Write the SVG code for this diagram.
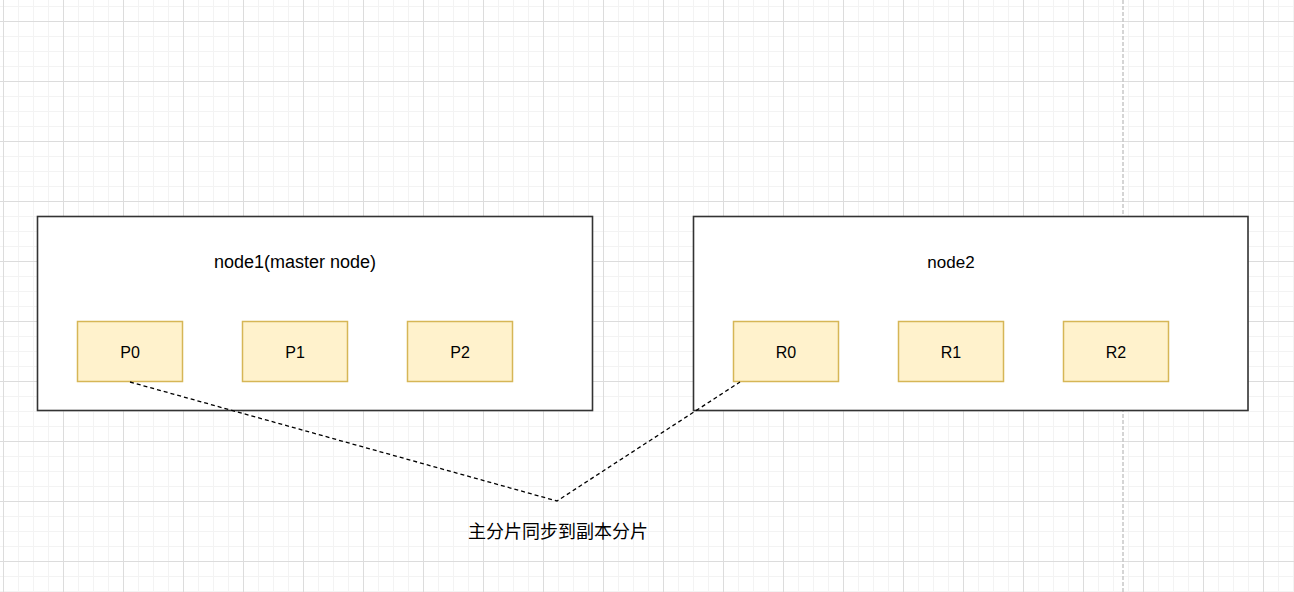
<svg xmlns="http://www.w3.org/2000/svg" width="1294" height="592" viewBox="0 0 1294 592">
<style>
.box{fill:#fff;stroke:#333;stroke-width:1.6}
.shard{fill:#fff2cc;stroke:#d6b656;stroke-width:1.5}
.lbl{font-family:"Liberation Sans",Arial,sans-serif;fill:#000;text-anchor:middle}
.big{font-size:17px}
.big18{font-size:18px}
.sm{font-size:16px}
.cjk{font-family:"Liberation Sans","Noto Sans CJK SC",sans-serif;font-size:18px;fill:#000;text-anchor:middle}
.conn{fill:none;stroke:#000;stroke-width:1.3;stroke-dasharray:4 3}
</style>
<defs>
<pattern id="grid" patternUnits="userSpaceOnUse" x="3" y="21" width="60" height="60">
<path d="M15.5 0V60M30.5 0V60M45.5 0V60M0 15.5H60M0 30.5H60M0 45.5H60" stroke="#f3f3f3" stroke-width="1" fill="none"/>
<path d="M0.5 0V60M0 0.5H60" stroke="#dcdcdc" stroke-width="1" fill="none"/>
</pattern>
</defs>
<rect width="1294" height="592" fill="#fff"/>
<rect width="1294" height="592" fill="url(#grid)"/>
<line x1="1123" y1="0" x2="1123" y2="592" stroke="#c8c8c8" stroke-width="1.5" stroke-dasharray="4 2"/>
<g id="node1">
<rect class="box" x="37.5" y="216.5" width="555" height="194"/>
<text class="lbl big18" x="295" y="268">node1(master node)</text>
</g>
<g id="node2">
<rect class="box" x="693.5" y="216.5" width="554.5" height="194"/>
<text class="lbl big" x="951" y="268">node2</text>
</g>
<g id="P0"><rect class="shard" x="77.5" y="321.5" width="105" height="60"/><text class="lbl sm" x="130" y="358">P0</text></g>
<g id="P1"><rect class="shard" x="242.5" y="321.5" width="105" height="60"/><text class="lbl sm" x="295" y="358">P1</text></g>
<g id="P2"><rect class="shard" x="407.5" y="321.5" width="105" height="60"/><text class="lbl sm" x="460" y="358">P2</text></g>
<g id="R0"><rect class="shard" x="733.5" y="321.5" width="105" height="60"/><text class="lbl sm" x="786" y="358">R0</text></g>
<g id="R1"><rect class="shard" x="898.5" y="321.5" width="105" height="60"/><text class="lbl sm" x="951" y="358">R1</text></g>
<g id="R2"><rect class="shard" x="1063.5" y="321.5" width="105" height="60"/><text class="lbl sm" x="1116" y="358">R2</text></g>
<g id="connectors">
<polyline class="conn" points="130,382 557,501 740,382"/>
</g>
<g id="label">
<text class="cjk" x="558" y="538">主分片同步到副本分片</text>
</g>
</svg>
